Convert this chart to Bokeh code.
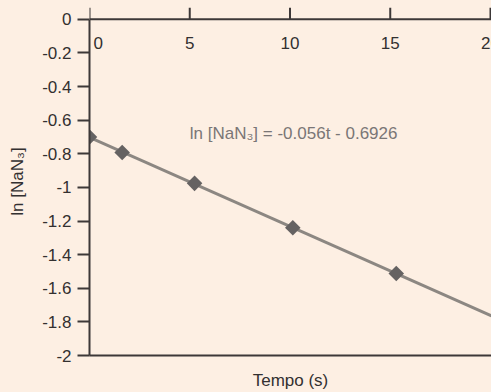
import numpy as np
from bokeh.plotting import figure
from bokeh.models import Range1d, LinearAxis, FixedTicker, Label, Span
from bokeh.core.properties import value
from bokeh.embed import file_html
from bokeh.resources import INLINE

# ---- data ----
time_s = [0, 1.63, 5.24, 10.14, 15.3]
ln_nan3 = [-0.70, -0.792, -0.976, -1.24, -1.512]

x_ticks = [0, 5, 10, 15, 20]
x_tick_labels = ["0", "5", "10", "15", "20"]
y_ticks = [0, -0.2, -0.4, -0.6, -0.8, -1, -1.2, -1.4, -1.6, -1.8, -2]
y_tick_labels = ["0", "-0.2", "-0.4", "-0.6", "-0.8", "-1", "-1.2", "-1.4", "-1.6", "-1.8", "-2"]

equation = "ln [NaN\u2083] = -0.056t - 0.6926"
x_label = "Tempo (s)"
y_label = "ln [NaN\u2083]"

# ---- style ----
BG = "#FDEFE3"
AXIS = "#3d3838"
TICK_TXT = "#333030"
FONT = "Liberation Sans"
FS = "17px"
X_END = 20.05       # right edge of the plotting area
Y_TOP = 0.0702      # room above y=0 for the upward tick marks (12 px)

p = figure(width=491, height=392, output_backend="svg", toolbar_location=None,
           x_range=Range1d(0, X_END), y_range=Range1d(-2, Y_TOP),
           x_axis_location=None, y_axis_location=None,
           min_border_left=89, min_border_top=7, min_border_right=0,
           min_border_bottom=31,
           background_fill_color=BG, border_fill_color=BG, outline_line_color=None)
p.grid.visible = False

yax = LinearAxis(ticker=FixedTicker(ticks=y_ticks), bounds=(-2, 0),
                 major_label_overrides=dict(zip(y_ticks, y_tick_labels)),
                 major_tick_out=12, major_tick_in=0,
                 minor_tick_line_color=None,
                 axis_line_color=AXIS, axis_line_width=2,
                 major_tick_line_color=AXIS, major_tick_line_width=2,
                 major_label_standoff=6,
                 major_label_text_font=FONT, major_label_text_font_size=FS,
                 major_label_text_color=TICK_TXT,
                 axis_label=y_label, axis_label_standoff=12,
                 axis_label_text_font=FONT, axis_label_text_font_size=FS,
                 axis_label_text_font_style="normal", axis_label_text_color=TICK_TXT)
p.add_layout(yax, "left")

bax = LinearAxis(ticker=FixedTicker(ticks=[]),
                 major_tick_out=0, major_tick_in=0,
                 minor_tick_line_color=None,
                 axis_line_color=AXIS, axis_line_width=2,
                 axis_label=x_label, axis_label_standoff=15,
                 axis_label_text_font=FONT, axis_label_text_font_size=FS,
                 axis_label_text_font_style="normal", axis_label_text_color=TICK_TXT)
p.add_layout(bax, "below")

# top axis at y = 0: line, upward ticks, labels below the line
p.add_layout(Span(location=0, dimension="width", line_color=AXIS, line_width=2))
p.segment(x0=x_ticks, y0=[0] * len(x_ticks), x1=x_ticks, y1=[Y_TOP] * len(x_ticks),
          line_color=AXIS, line_width=2)
p.text(x=x_ticks[1:], y=[0] * (len(x_ticks) - 1), text=x_tick_labels[1:],
       text_align="center", text_baseline="alphabetic", y_offset=24,
       text_font=value(FONT), text_font_size=FS, text_color=TICK_TXT)
p.text(x=x_ticks[:1], y=[0], text=x_tick_labels[:1],
       text_align="left", text_baseline="alphabetic", x_offset=4, y_offset=24,
       text_font=value(FONT), text_font_size=FS, text_color=TICK_TXT)

# fitted line through the data
slope, intercept = np.polyfit(time_s, ln_nan3, 1)
line_x = [time_s[0], X_END]
line_y = [intercept + slope * xx for xx in line_x]
p.line(line_x, line_y, line_width=3, line_color="#8c8782")

p.scatter(time_s, ln_nan3, marker="square", angle=np.pi / 4, size=11,
          fill_color="#656262", line_color=None)

p.add_layout(Label(x=5, y=-0.68, text=equation, text_font=FONT,
                   text_font_size=FS, text_color="#7a7676",
                   text_baseline="alphabetic"))

html = file_html(p, INLINE)
html = html.replace("</head>", "<style>html, body {background: %s;}</style></head>" % BG, 1)
open("out.html", "w").write(html)
